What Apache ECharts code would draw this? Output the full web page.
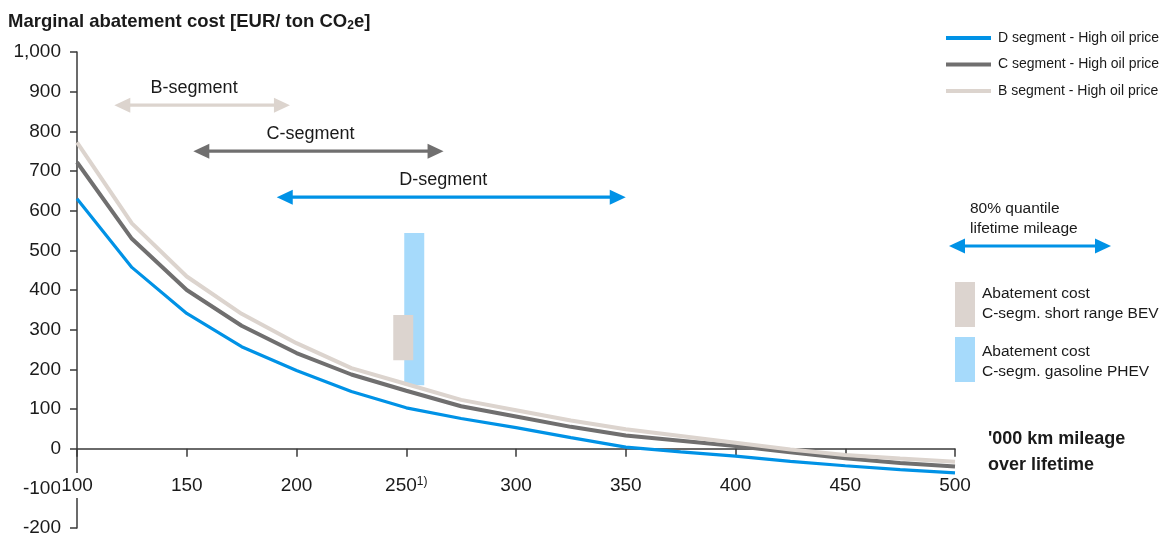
<!DOCTYPE html>
<html><head><meta charset="utf-8">
<script src="https://cdn.jsdelivr.net/npm/echarts@6/dist/echarts.min.js"></script>
<style>html,body{margin:0;padding:0;background:#fff}#c{width:1166px;height:537px}</style>
</head><body><div id="c"></div>
<script>
// ---- data ----
const mileage = [100,125,150,175,200,225,250,275,300,325,350,375,400,425,450,475,500];
const costD = [630,457,341,257,197,144,103,76,53,28,4,-8,-19,-32,-43,-53,-61];
const costC = [722,529,400,310,241,187,146,107,81,55,33,20,7,-9,-24,-36,-45];
const costB = [772,568,434,340,266,203,163,123,97,71,49,32,15,-2,-16,-25,-33];
const seriesNames = ['D segment - High oil price','C segment - High oil price','B segment - High oil price'];

const segLabels = ['B-segment','C-segment','D-segment'];
const segFrom = [117,153,191];
const segTo = [197,267,350];
const segLevel = [866,750,634];

const boxNames = ['C-segm. short range BEV','C-segm. gasoline PHEV'];
const boxMileage = [250,250];
const boxLow = [223,160];
const boxHigh = [337,544];

const xTicks = [100,150,200,250,300,350,400,450,500];
const yTicks = [-200,-100,0,100,200,300,400,500,600,700,800,900,1000];

// ---- styling ----
const FONT = '"Liberation Sans", Arial, sans-serif';
const cBlue = '#0092E6', cGray = '#706F6F', cBeige = '#DCD4CE';
const cBoxBeige = '#DCD4CF', cBoxBlue = '#A6DAFB';
const segColors = [cBeige, cGray, cBlue];
const boxColors = [cBoxBeige, cBoxBlue];
const boxOffset = [-3, 8];
const txt = '#1a1a1a';

function pair(xs, ys){ return xs.map((x,i)=>[x, ys[i]]); }

function arrowParts(x1, x2, y, color, lw){
  const hl = 16, hw = 7.5;
  return [
    {type:'line', shape:{x1:x1+hl-1, y1:y, x2:x2-hl+1, y2:y}, style:{stroke:color, lineWidth:lw}},
    {type:'polygon', shape:{points:[[x1,y],[x1+hl,y-hw],[x1+hl,y+hw]]}, style:{fill:color}},
    {type:'polygon', shape:{points:[[x2,y],[x2-hl,y-hw],[x2-hl,y+hw]]}, style:{fill:color}}
  ];
}

const chart = echarts.init(document.getElementById('c'), null, {renderer:'canvas'});
const option = {
  animation:false,
  backgroundColor:'#fff',
  textStyle:{fontFamily:FONT},
  title:{
    left:8, top:12, padding:0,
    text:'{a|Marginal abatement cost [EUR/ ton CO}{s|2}{a|e]}',
    textStyle:{
      rich:{
        a:{fontSize:18.5, fontWeight:'bold', color:txt, fontFamily:FONT},
        s:{fontSize:12, fontWeight:'bold', color:txt, fontFamily:FONT, padding:[8,0,0,0]}
      }
    }
  },
  legend:{
    orient:'vertical', left:946, top:31, padding:0,
    itemWidth:45, itemHeight:4, itemGap:12.5,
    icon:'rect',
    data:seriesNames,
    textStyle:{fontSize:14, color:txt, fontFamily:FONT, lineHeight:14, padding:[0,0,0,2]}
  },
  grid:{left:77, right:211, top:52, bottom:9, containLabel:false, outerBoundsMode:'none'},
  xAxis:{
    type:'value', min:100, max:500, interval:50, z:3,
    axisLine:{onZero:true, lineStyle:{color:'#3a3a3a', width:1.5}},
    axisTick:{show:true, length:8, lineStyle:{color:'#3a3a3a', width:1.5}},
    splitLine:{show:false},
    axisLabel:{
      margin:-55, fontSize:19, color:txt, fontFamily:FONT,
      backgroundColor:'#fff', padding:[3,1,3,1],
      formatter:function(v){ return v===250 ? '{n|'+v+'}{s|1)}' : '{n|'+v+'}'; },
      rich:{
        n:{fontSize:19, color:txt, fontFamily:FONT},
        s:{fontSize:12, color:txt, fontFamily:FONT, padding:[0,0,8,0]}
      }
    }
  },
  yAxis:{
    type:'value', min:yTicks[0], max:yTicks[yTicks.length-1], interval:100, z:1,
    axisLine:{show:true, lineStyle:{color:'#3a3a3a', width:1.5}},
    axisTick:{show:true, length:7, lineStyle:{color:'#3a3a3a', width:1.5}},
    splitLine:{show:false},
    axisLabel:{margin:16, fontSize:19, color:txt, fontFamily:FONT,
      formatter:function(v){ return v.toLocaleString('en-US'); }}
  },
  series:[
    {
      type:'custom', name:'boxes', z:1, silent:true,
      data: boxMileage.map((x,i)=>[x, boxLow[i], boxHigh[i]]),
      renderItem:function(params, api){
        const i = params.dataIndex;
        const top = api.coord([api.value(0), api.value(2)]);
        const bot = api.coord([api.value(0), api.value(1)]);
        const cx = top[0] + boxOffset[i];
        return {type:'rect', z2: i===0 ? 10 : 5,
          shape:{x:cx-10, y:top[1], width:20, height:bot[1]-top[1]},
          style:{fill:boxColors[i]}};
      }
    },
    {type:'line', name:seriesNames[0], data:pair(mileage,costD), color:cBlue, z:4,
      showSymbol:false, lineStyle:{width:3.2, color:cBlue}},
    {type:'line', name:seriesNames[1], data:pair(mileage,costC), color:cGray, z:5,
      showSymbol:false, lineStyle:{width:4, color:cGray}},
    {type:'line', name:seriesNames[2], data:pair(mileage,costB), color:cBeige, z:6,
      showSymbol:false, lineStyle:{width:4, color:cBeige}},
    {
      type:'custom', name:'segments', z:3, silent:true,
      data: segFrom.map((f,i)=>[f, segTo[i], segLevel[i]]),
      renderItem:function(params, api){
        const i = params.dataIndex;
        const a = api.coord([api.value(0), api.value(2)]);
        const b = api.coord([api.value(1), api.value(2)]);
        const parts = arrowParts(a[0], b[0], a[1], segColors[i], 3.2);
        parts.push({type:'text', x:(a[0]+b[0])/2-8, y:a[1]-17,
          style:{text:segLabels[i], fill:txt, fontSize:18, fontFamily:FONT, align:'center', verticalAlign:'middle'}});
        return {type:'group', children:parts};
      }
    }
  ],
  graphic:[
    {type:'group', children: arrowParts(949, 1111, 246, cBlue, 3.2)},
    {type:'text', left:970, top:199, style:{text:'80% quantile\nlifetime mileage', fill:txt, fontSize:15.5, fontFamily:FONT, lineHeight:20}},
    {type:'rect', shape:{x:955, y:282, width:20, height:45}, style:{fill:cBoxBeige}},
    {type:'rect', shape:{x:955, y:337, width:20, height:45}, style:{fill:cBoxBlue}},
    {type:'text', left:982, top:284, style:{text:'Abatement cost\n'+boxNames[0], fill:txt, fontSize:15.5, fontFamily:FONT, lineHeight:20}},
    {type:'text', left:982, top:342, style:{text:'Abatement cost\n'+boxNames[1], fill:txt, fontSize:15.5, fontFamily:FONT, lineHeight:20}},
    {type:'text', left:988, top:426, style:{text:"'000 km mileage\nover lifetime", fill:txt, fontSize:18, fontWeight:'bold', fontFamily:FONT, lineHeight:26}}
  ]
};
chart.setOption(option);
</script></body></html>
